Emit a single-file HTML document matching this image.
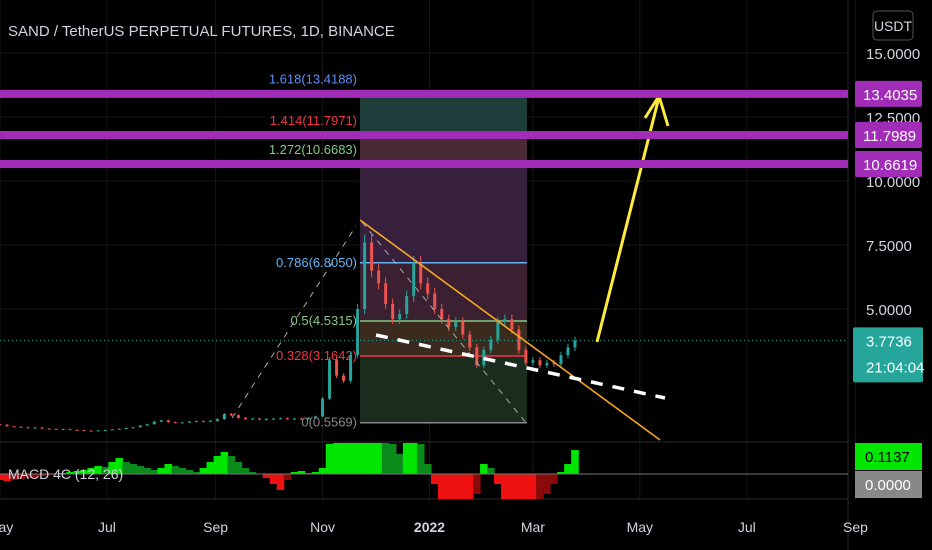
<!DOCTYPE html>
<html><head><meta charset="utf-8"><style>
html,body{margin:0;padding:0;background:#000;}
svg{display:block;font-family:"Liberation Sans",sans-serif;}
</style></head><body>
<svg id="c" width="932" height="550" viewBox="0 0 932 550">
<rect width="932" height="550" fill="#000"/>
<g id="grid"></g>
<g id="fib"></g>
<g id="candles"></g>
<g id="macd"></g>
<g id="draw"></g>
<g id="axes"></g>
<text x="8" y="36" fill="#d1d4dc" font-size="15">SAND / TetherUS PERPETUAL FUTURES, 1D, BINANCE</text>
</svg>
<script>
const closes = [0.45,0.5,0.48,0.42,0.4,0.38,0.35,0.37,0.33,0.32,
0.3,0.31,0.28,0.27,0.25,0.24,0.26,0.27,
0.3,0.32,0.35,0.38,0.45,0.5,0.6,0.65,
0.58,0.55,0.57,0.6,0.62,0.6,0.63,
0.7,0.9,0.85,0.75,0.7,0.72,0.68,0.7,
0.72,0.73,0.7,0.72,0.7,0.75,0.8,
1.5,3.0,2.4,2.2,3.2,5.0,7.6,6.5,
6.0,5.2,4.6,4.8,5.5,6.8,6.0,5.6,
5.0,4.6,4.3,4.5,4.0,3.5,2.8,
3.4,3.8,4.5,4.6,4.2,3.4,2.9,
3.0,2.8,2.9,2.85,3.2,3.5,3.77];
const macdVals = [-0.1,-0.2,-0.3,-0.35,-0.3,-0.25,-0.2,-0.15,-0.1,-0.05,
0,0.05,0.1,0.15,0.2,0.3,0.4,0.35,
0.6,0.8,0.6,0.5,0.4,0.3,0.2,0.3,
0.5,0.4,0.3,0.2,0.1,0.3,0.6,
0.9,1.1,0.9,0.6,0.3,0.1,0,-0.2,
-0.5,-0.8,-0.3,0.1,0.15,0.05,0.1,
0.3,1.5,2,2,2,2,2,2,
2,1.8,1.5,1.0,2,2,1.5,0.5,
-0.5,-2,-2,-2,-2,-2,-1,
0.5,0.3,-0.5,-2,-2,-2,-2,
-2,-1.5,-1,-0.5,0.1,0.5,1.2];
const priceTicks = [15,12.5,10,7.5,5];
const monthLabels = ["May","Jul","Sep","Nov","2022","Mar","May","Jul","Sep"];
const monthDays = [0,61,123,184,245,304,365,426,488];
const fibLevels = [1.618,1.414,1.272,0.786,0.5,0.328,0];
const fibPrices = [13.4188,11.7971,10.6683,6.8050,4.5315,3.1642,0.5569];
const targetPrices = [13.4035,11.7989,10.6619];
const lastPrice = 3.7736;

const NS="http://www.w3.org/2000/svg";
const yP = p => 53 + (15 - p) * 25.6;
const xD = d => 1.753 * d;
const dayOf = i => -8 + 4 * i;
const yM = v => Math.max(443, Math.min(499, 474 - v * 20));
function mk(parent, tag, attrs, txt){const e=document.createElementNS(NS,tag);for(const k in attrs)e.setAttribute(k,attrs[k]);if(txt!==undefined)e.textContent=txt;document.getElementById(parent).appendChild(e);return e;}

priceTicks.forEach(p=>{const e=mk('grid','line',{x1:0,x2:848,y1:yP(p),y2:yP(p),stroke:'#161616'});

});
monthDays.forEach(d=>{const e=mk('grid','line',{x1:xD(d),x2:xD(d),y1:0,y2:500,stroke:'#161616'});

});
mk('grid','line',{x1:0,x2:848,y1:442,y2:442,stroke:'#2a2a2a'});
mk('grid','line',{x1:0,x2:848,y1:499,y2:499,stroke:'#2a2a2a'});
mk('grid','line',{x1:848,x2:848,y1:0,y2:550,stroke:'#2a2a2a'});

const fx1=360, fx2=527;
const boxTop=yP(fibPrices[0]);
const bands=[[boxTop,yP(fibPrices[1])],[yP(fibPrices[1]),yP(fibPrices[2])],[yP(fibPrices[2]),yP(fibPrices[3])],[yP(fibPrices[3]),yP(fibPrices[4])],[yP(fibPrices[4]),yP(fibPrices[5])],[yP(fibPrices[5]),yP(fibPrices[6])]];
const bc=['#1d3d3a','#4b2a38','#36203e','#3a2030','#3b2a1e','#1a2c1e'];
bands.forEach((b,i)=>{const e=mk('fib','rect',{x:fx1,y:b[0],width:fx2-fx1,height:b[1]-b[0],fill:bc[i]});

});
const fibCols=['#5b8ff6','#f23645','#81c784','#64b5f6','#81c784','#f23645','#888'];
fibLevels.forEach((lv,i)=>{
 const y=yP(fibPrices[i]);
 if(i>=3){const l=mk('fib','line',{x1:fx1,x2:fx2,y1:y,y2:y,stroke:fibCols[i],'stroke-width':1.5});
 
 }
 const ty = i<3 ? y-10 : y+4;
 const t=mk('fib','text',{x:357,y:ty,fill:fibCols[i],'font-size':13,'text-anchor':'end'},lv+'('+fibPrices[i].toFixed(4)+')');
 
 
});

closes.forEach((c,i)=>{
 const o = i>0?closes[i-1]:c;
 const x = xD(dayOf(i));
 const up = c>=o;
 const col = up?'#26a69a':'#ef5350';
 const hi=Math.max(o,c)*1.04, lo=Math.min(o,c)*0.96;
 const w=mk('candles','line',{x1:x,x2:x,y1:yP(hi),y2:yP(lo),stroke:col,'stroke-width':1});
 
 
 const y1=yP(Math.max(o,c)), y2=yP(Math.min(o,c));
 const r=mk('candles','rect',{x:x-1.5,y:y1,width:3,height:Math.max(1,y2-y1),fill:col});
 
 
});

macdVals.forEach((v,i)=>{
 const x = xD(dayOf(i));
 const prev = i>0?macdVals[i-1]:v;
 const col = v>=0 ? (v>=prev?'#00e600':'#0a8a1a') : (v<=prev?'#ee1111':'#8a0a0a');
 const y0=474, y=yM(v);
 const r=mk('macd','rect',{x:x-3.8,y:Math.min(y,y0),width:7.6,height:Math.abs(y-y0)||0.5,fill:col});
 
 
});
mk('macd','line',{x1:0,x2:848,y1:474,y2:474,stroke:'#777','stroke-width':1});
mk('macd','text',{x:8,y:479,fill:'#d1d4dc','font-size':14},'MACD 4C (12, 26)');

const ly=yP(lastPrice);
mk('draw','line',{x1:0,x2:848,y1:ly,y2:ly,stroke:'#26a69a','stroke-dasharray':'1 3'});
mk('draw','line',{x1:232,y1:418,x2:356,y2:226,stroke:'#aaa','stroke-dasharray':'6 6'});
mk('draw','line',{x1:362,y1:222,x2:527,y2:424,stroke:'#aaa','stroke-dasharray':'6 6'});
mk('draw','line',{x1:360,y1:220,x2:660,y2:440,stroke:'#f5a623','stroke-width':1.6});
mk('draw','line',{x1:376,y1:335,x2:665,y2:398,stroke:'#fff','stroke-width':3.5,'stroke-dasharray':'12 10'});
mk('draw','line',{x1:597,y1:342,x2:659,y2:97,stroke:'#ffeb3b','stroke-width':3});
mk('draw','polyline',{points:'645,118 659,96 668,126',fill:'none',stroke:'#ffeb3b','stroke-width':3});
targetPrices.forEach(p=>{
 const y=yP(p);
 const l=mk('draw','line',{x1:0,x2:848,y1:y,y2:y,stroke:'#a02cb8','stroke-width':8});
 
 
});

priceTicks.forEach(p=>{const t=mk('axes','text',{x:866,y:yP(p)+6,fill:'#d1d4dc','font-size':15},p.toFixed(4));

});
targetPrices.forEach(p=>{
 const y=yP(p);
 const r=mk('axes','rect',{x:855,y:y-13,width:67,height:26,rx:2,fill:'#a02cb8'});
 
 
 mk('axes','text',{x:863,y:y+6,fill:'#fff','font-size':15},p.toFixed(4));
});
mk('axes','rect',{x:873,y:11,width:40,height:29,rx:4,fill:'none',stroke:'#555'});
mk('axes','text',{x:893,y:31,fill:'#d1d4dc','font-size':14,'text-anchor':'middle'},'USDT');
mk('axes','rect',{x:853,y:ly-13,width:70,height:55,rx:2,fill:'#26a69a'});
mk('axes','text',{x:866,y:ly+6,fill:'#fff','font-size':15},lastPrice.toFixed(4));
mk('axes','text',{x:866,y:ly+32,fill:'#fff','font-size':15},'21:04:04');
mk('axes','rect',{x:855,y:443,width:67,height:27,fill:'#00e600'});
mk('axes','text',{x:865,y:462,fill:'#000','font-size':15},'0.1137');
mk('axes','rect',{x:855,y:471,width:67,height:27,fill:'#888'});
mk('axes','text',{x:865,y:490,fill:'#fff','font-size':15},'0.0000');
monthLabels.forEach((m,i)=>{const t=mk('axes','text',{x:xD(monthDays[i]),y:532,fill:'#d1d4dc','font-size':14,'text-anchor':'middle','font-weight':m==='2022'?'bold':'normal'},m);

});
</script>
</body></html>
